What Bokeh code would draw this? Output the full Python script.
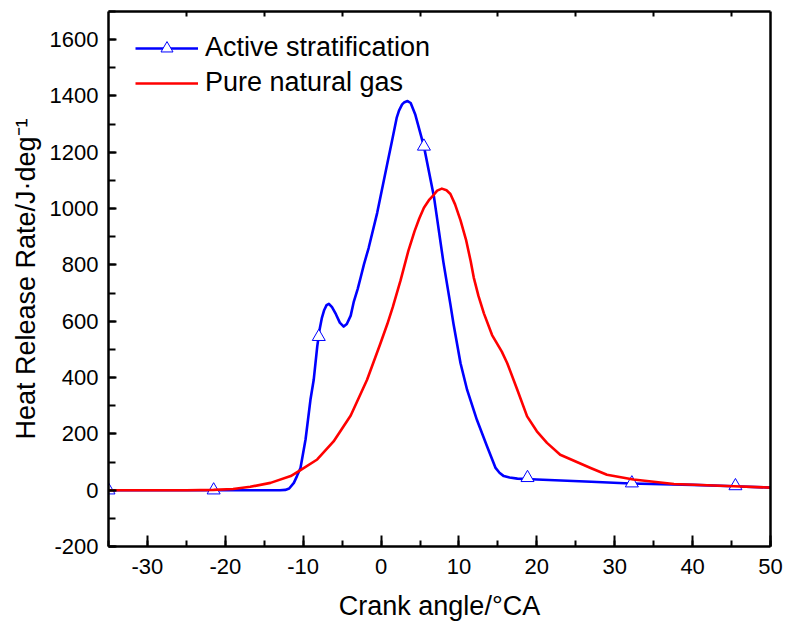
from bokeh.plotting import figure
from bokeh.models import (LinearAxis, SingleIntervalTicker, FixedTicker, Range1d,
                          Legend, LegendItem, CustomJSTickFormatter)
from bokeh.embed import file_html
from bokeh.resources import INLINE

# ---- data ----
active_x = [-35, -20, -13, -12.3, -11.8, -11.2, -10.8, -10.35, -9.7, -9.07, -8.65, -8.2,
            -7.9, -7.6, -7.3, -7.0, -6.7, -6.3, -5.8, -5.3, -4.8, -4.4, -3.9, -3.5, -3.0,
            -2.6, -2.2, -1.6, -0.5, 0.8, 1.4, 2.0, 2.3, 2.7, 3.0, 3.4, 3.8, 4.4, 5.5, 6.8,
            8.0, 8.9, 9.3, 10.2, 11.05, 12.3, 13.6, 14.7, 15.2, 15.75, 16.5, 17.5, 20, 27,
            32, 40, 45.3, 50]
active_y = [0, 0, 0, 1, 6, 26, 50, 79, 180, 321, 392, 510,
            570, 612, 640, 657, 662, 650, 625, 595, 581, 590, 620, 670, 715,
            758, 802, 860, 985, 1160, 1240, 1322, 1348, 1370, 1378, 1382, 1375, 1333, 1221, 1040,
            810, 660, 590, 451, 356, 250, 156, 79, 62, 50, 45, 41, 38, 30,
            24, 19, 14, 9]

marker_x = [-35, -21.5, -8.0, 5.5, 18.8, 32.2, 45.5]
marker_y = [0, 0, 545, 1221, 44, 25, 15]

gas_x = [-35, -25, -21.5, -19, -16.8, -14.2, -11.6, -10.35, -8.2, -6.1, -3.9, -1.8, -0.1,
         0.8, 1.5, 2.5, 3.5, 4.3, 4.9, 5.5, 6.2, 6.8, 7.2, 7.8, 8.4, 8.9, 9.5, 10.2, 10.9,
         11.5, 11.9, 12.5, 13.2, 14.25, 15.5, 16.2, 17.5, 18.75, 20.0, 21.3, 23.0, 26.9,
         29.0, 32.4, 37.6, 45.3, 50]
gas_y = [0, 0, 1, 4, 12, 26, 50, 71, 109, 173, 265, 392, 520,
         590, 650, 745, 850, 920, 965, 1003, 1032, 1050, 1064, 1071, 1065, 1052, 1015, 958, 890,
         814, 755, 690, 628, 551, 492, 451, 356, 262, 209, 168, 126, 79,
         55, 38, 22, 14, 9]

x_ticks_top = [-25, -15, -5, 5, 15, 25, 35, 45]
series_names = ["Active stratification", "Pure natural gas"]
x_label = "Crank angle/°CA"
y_label = "Heat Release Rate/J·deg⁻¹"

FONT = "Liberation Sans"

p = figure(width=785, height=623, output_backend="svg", toolbar_location=None,
           x_range=Range1d(-35, 50), y_range=Range1d(-200, 1700),
           min_border_left=108, min_border_right=15, min_border_top=11,
           min_border_bottom=76, x_axis_location="below", y_axis_location="left")
p.xgrid.visible = False
p.ygrid.visible = False
p.outline_line_color = None
p.background_fill_color = "white"
p.border_fill_color = "white"

l1 = p.line(active_x, active_y, line_color="#0000FF", line_width=2.6, line_join="round")
m1 = p.scatter(marker_x, marker_y, marker="triangle", size=13, line_color="#0000FF",
               fill_color="white", line_width=1)
l2 = p.line(gas_x, gas_y, line_color="#FF0000", line_width=2.6, line_join="round")

def style_axis(ax):
    ax.axis_line_width = 2.5
    ax.axis_line_color = "black"
    ax.major_tick_line_width = 2
    ax.minor_tick_line_width = 2
    ax.major_tick_line_color = "black"
    ax.minor_tick_line_color = "black"
    ax.major_tick_out = 0
    ax.minor_tick_out = 0
    ax.major_label_text_font = FONT
    ax.major_label_text_font_size = "22px"
    ax.major_label_text_color = "black"
    ax.axis_label_text_font = FONT
    ax.axis_label_text_font_size = "27px"
    ax.axis_label_text_font_style = "normal"
    ax.axis_label_text_color = "black"

xa = p.xaxis[0]
xa.ticker = SingleIntervalTicker(interval=10, num_minor_ticks=2)
style_axis(xa)
xa.major_tick_in = 11
xa.minor_tick_in = 6
xa.major_label_standoff = 12
xa.major_label_overrides = {-30: "-30", -20: "-20", -10: "-10"}
xa.axis_label = x_label
xa.axis_label_standoff = 14

ya = p.yaxis[0]
ya.ticker = SingleIntervalTicker(interval=200, num_minor_ticks=2)
style_axis(ya)
ya.major_tick_in = 8
ya.minor_tick_in = 7
ya.major_label_standoff = 10
ya.major_label_overrides = {-200: "-200"}
ya.axis_label = y_label
ya.axis_label_standoff = 6

top = LinearAxis(ticker=FixedTicker(ticks=x_ticks_top),
                 formatter=CustomJSTickFormatter(code="return ''"))
style_axis(top)
top.major_tick_in = 5
top.major_label_standoff = 0
p.add_layout(top, "above")

right = LinearAxis(ticker=FixedTicker(ticks=[]))
style_axis(right)
right.major_tick_in = 0
right.minor_tick_in = 0
right.major_label_standoff = 0
p.add_layout(right, "right")

legend = Legend(items=[LegendItem(label=series_names[0], renderers=[l1, m1]),
                       LegendItem(label=series_names[1], renderers=[l2])],
                location=(27, 448))
legend.border_line_color = None
legend.background_fill_alpha = 0
legend.padding = 0
legend.margin = 0
legend.spacing = 4
legend.glyph_width = 63
legend.glyph_height = 30
legend.label_height = 30
legend.label_standoff = 7
legend.label_text_font = FONT
legend.label_text_font_size = "27px"
legend.label_text_color = "black"
p.add_layout(legend, "center")

open("out.html", "w").write(file_html(p, INLINE))
